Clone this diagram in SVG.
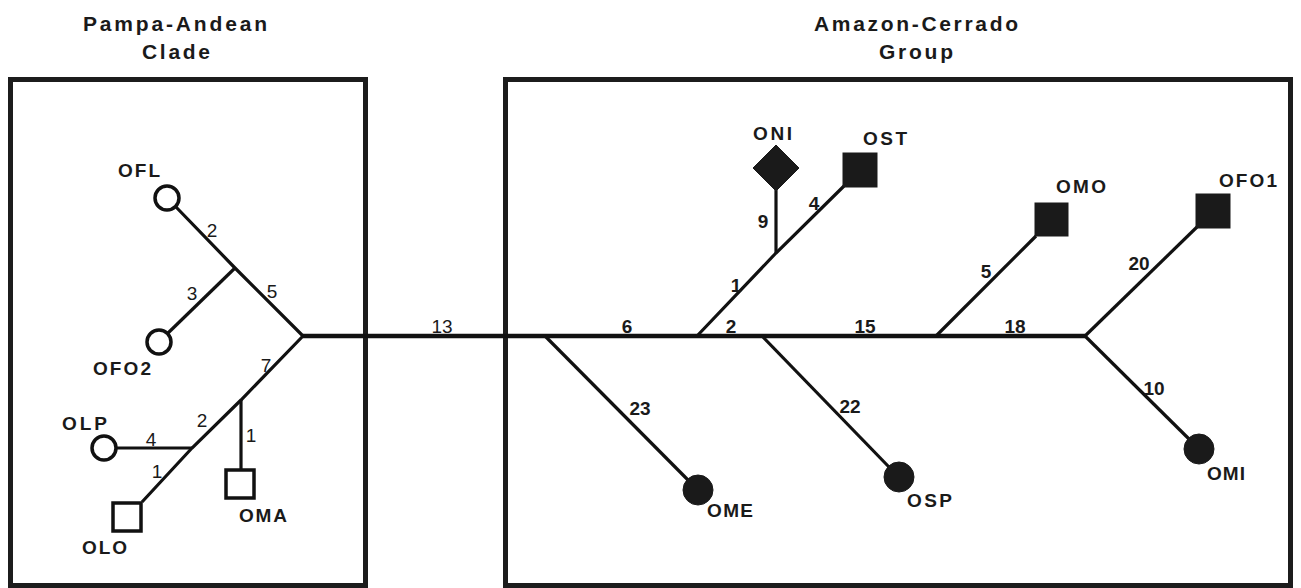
<svg xmlns="http://www.w3.org/2000/svg" width="1301" height="588" viewBox="0 0 1301 588">
<style>
.box{fill:none;stroke:#1c1c1c;stroke-width:5}
.edge{fill:none;stroke:#111;stroke-width:3.2}
.main{stroke-width:4.5}
.open{fill:#fff;stroke:#111;stroke-width:3.5}
.solid{fill:#1a1a1a;stroke:#1a1a1a;stroke-width:1}
.lbl{font-family:"Liberation Sans",Arial,sans-serif;font-weight:bold;font-size:19px;fill:#1a1a1a}
.num{font-family:"Liberation Sans",Arial,sans-serif;font-size:19px;fill:#1a1a1a;text-anchor:middle}
.numb{font-weight:bold}
.title{font-family:"Liberation Sans",Arial,sans-serif;font-weight:bold;font-size:21px;fill:#1a1a1a}
</style>
<rect width="1301" height="588" fill="#fff"/>
<g id="clade-pampa-andean">
<rect class="box" x="10.5" y="79.5" width="355" height="506"/>
<text class="title" x="83" y="31" textLength="184" lengthAdjust="spacing">Pampa-Andean</text>
<text class="title" x="142" y="59" textLength="68" lengthAdjust="spacing">Clade</text>
</g>
<g id="group-amazon-cerrado">
<rect class="box" x="505.5" y="79.5" width="785" height="506"/>
<text class="title" x="814" y="31" textLength="204" lengthAdjust="spacing">Amazon-Cerrado</text>
<text class="title" x="879" y="59" textLength="74" lengthAdjust="spacing">Group</text>
</g>
<g id="connectors">
<line class="edge main" x1="303" y1="336" x2="1085" y2="336"/>
<polyline class="edge" points="303,336 235,268 176,207"/>
<line class="edge" x1="235" y1="268" x2="167" y2="334"/>
<polyline class="edge" points="303,336 241,400 192,448 142,502"/>
<line class="edge" x1="241" y1="400" x2="241" y2="470"/>
<line class="edge" x1="192" y1="448" x2="116" y2="448" stroke-width="4.5"/>
<line class="edge" x1="545" y1="336" x2="688" y2="480"/>
<polyline class="edge" points="697,336 776,253 844,186"/>
<line class="edge" x1="776" y1="253" x2="776" y2="190"/>
<line class="edge" x1="762" y1="336" x2="889" y2="467"/>
<line class="edge" x1="936" y1="336" x2="1036" y2="236"/>
<line class="edge" x1="1085" y1="336" x2="1197" y2="227"/>
<line class="edge" x1="1085" y1="336" x2="1189" y2="439"/>
<text class="num" x="212" y="237">2</text>
<text class="num" x="272" y="298">5</text>
<text class="num" x="192" y="300">3</text>
<text class="num" x="266" y="372">7</text>
<text class="num" x="202" y="427">2</text>
<text class="num" x="151" y="446">4</text>
<text class="num" x="157" y="478">1</text>
<text class="num" x="251" y="442">1</text>
<text class="num" x="442" y="333">13</text>
<text class="num numb" x="627" y="333">6</text>
<text class="num numb" x="731" y="333">2</text>
<text class="num numb" x="865" y="333">15</text>
<text class="num numb" x="763" y="228">9</text>
<text class="num numb" x="736" y="292">1</text>
<text class="num numb" x="814" y="210">4</text>
<text class="num numb" x="986" y="278">5</text>
<text class="num numb" x="1015" y="333">18</text>
<text class="num numb" x="1139" y="270">20</text>
<text class="num numb" x="1154" y="395">10</text>
<text class="num numb" x="640" y="415">23</text>
<text class="num numb" x="850" y="413">22</text>
</g>
<g id="node-OFL"><circle class="open" cx="167" cy="198" r="12"/><text class="lbl" x="118" y="177" textLength="42" lengthAdjust="spacing">OFL</text></g>
<g id="node-OFO2"><circle class="open" cx="159" cy="342" r="12"/><text class="lbl" x="93" y="375" textLength="58" lengthAdjust="spacing">OFO2</text></g>
<g id="node-OLP"><circle class="open" cx="104" cy="448" r="12"/><text class="lbl" x="62" y="430" textLength="45" lengthAdjust="spacing">OLP</text></g>
<g id="node-OLO"><rect class="open" x="113" y="503" width="28" height="28" stroke-width="4"/><text class="lbl" x="82" y="554" textLength="45" lengthAdjust="spacing">OLO</text></g>
<g id="node-OMA"><rect class="open" x="226" y="470" width="28" height="28" stroke-width="4"/><text class="lbl" x="239" y="522" textLength="48" lengthAdjust="spacing">OMA</text></g>
<g id="node-ONI"><polygon class="solid" points="776,145 799,168 776,191 753,168"/><text class="lbl" x="753" y="140" textLength="39" lengthAdjust="spacing">ONI</text></g>
<g id="node-OST"><rect class="solid" x="843" y="153" width="34" height="34"/><text class="lbl" x="863" y="145" textLength="44" lengthAdjust="spacing">OST</text></g>
<g id="node-OMO"><rect class="solid" x="1035" y="203" width="33" height="33"/><text class="lbl" x="1056" y="193" textLength="50" lengthAdjust="spacing">OMO</text></g>
<g id="node-OFO1"><rect class="solid" x="1196" y="194" width="34" height="34"/><text class="lbl" x="1219" y="187" textLength="58" lengthAdjust="spacing">OFO1</text></g>
<g id="node-OME"><circle class="solid" cx="698" cy="490" r="15"/><text class="lbl" x="707" y="517" textLength="46" lengthAdjust="spacing">OME</text></g>
<g id="node-OSP"><circle class="solid" cx="899" cy="477" r="15"/><text class="lbl" x="907" y="507" textLength="45" lengthAdjust="spacing">OSP</text></g>
<g id="node-OMI"><circle class="solid" cx="1199" cy="449" r="15"/><text class="lbl" x="1207" y="480" textLength="38" lengthAdjust="spacing">OMI</text></g>
</svg>
